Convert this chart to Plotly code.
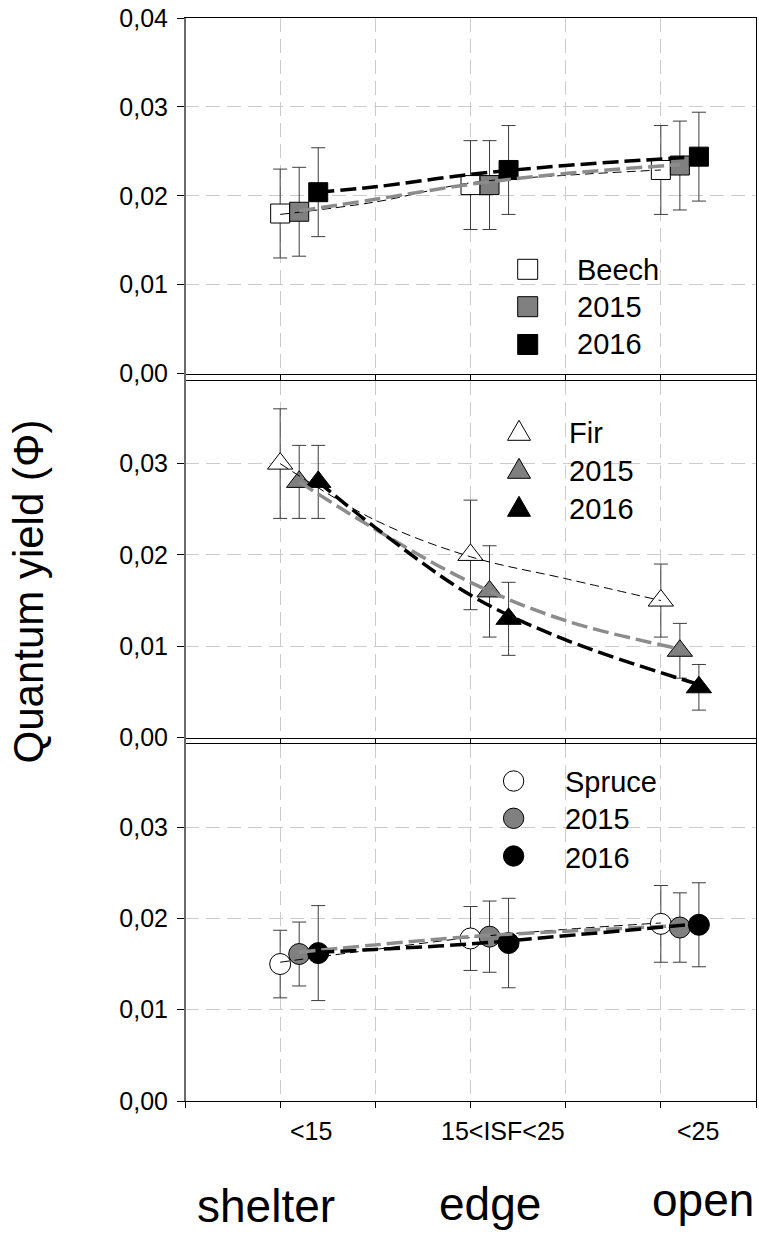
import plotly.graph_objects as go

FONT = "Liberation Sans, Arial, sans-serif"

# ---------------- data ----------------
sites = ["shelter", "edge", "open"]
isf_classes = ["<15", "15<ISF<25", "<25"]

beech_mean = [0.0180, 0.0212, 0.0229]
beech_err = [0.0050, 0.0050, 0.0050]
beech_2015 = [0.0182, 0.0212, 0.0234]
beech_2015_err = [0.0050, 0.0050, 0.0050]
beech_2016 = [0.0204, 0.0229, 0.0244]
beech_2016_err = [0.0050, 0.0050, 0.0050]

fir_mean = [0.0300, 0.0200, 0.0150]
fir_err = [0.0060, 0.0060, 0.0040]
fir_2015 = [0.0280, 0.0160, 0.0095]
fir_2015_err = [0.0040, 0.0050, 0.0030]
fir_2016 = [0.0280, 0.0130, 0.0055]
fir_2016_err = [0.0040, 0.0040, 0.0025]

spruce_mean = [0.0150, 0.0178, 0.0194]
spruce_err = [0.0037, 0.0035, 0.0042]
spruce_2015 = [0.0161, 0.0180, 0.0190]
spruce_2015_err = [0.0035, 0.0039, 0.0038]
spruce_2016 = [0.0162, 0.0173, 0.0193]
spruce_2016_err = [0.0052, 0.0049, 0.0046]

# fitted trend curves
fit_x_mean = [1.0, 2.0, 3.0, 4.0, 5.0]
fit_x_2015 = [1.2, 2.0, 3.0, 4.0, 5.2]
fit_x_2016 = [1.4, 2.0, 3.0, 4.0, 5.4]
beech_fit_mean = [0.0179, 0.0193, 0.02145, 0.0223, 0.0229]
beech_fit_2015 = [0.0183, 0.0196, 0.0213, 0.0225, 0.0235]
beech_fit_2016 = [0.0204, 0.0210, 0.0224, 0.0234, 0.0244]
fir_fit_mean = [0.0300, 0.0238, 0.0198, 0.0174, 0.0150]
fir_fit_2015 = [0.0280, 0.0228, 0.0170, 0.0128, 0.0097]
fir_fit_2016 = [0.0280, 0.0230, 0.0156, 0.0107, 0.0058]
spruce_fit_mean = [0.0152, 0.0166, 0.0179, 0.0188, 0.0195]
spruce_fit_2015 = [0.0163, 0.0171, 0.0180, 0.0186, 0.0192]
spruce_fit_2016 = [0.0163, 0.0166, 0.0172, 0.0181, 0.0194]

# ---------------- layout constants ----------------
W_FIG, H_FIG = 759, 1235
M_L, M_R, M_T, M_B = 185, 3, 18, 134
PW = W_FIG - M_L - M_R
PH = H_FIG - M_T - M_B
BOTTOM_PX = H_FIG - M_B

cat_x = [1, 3, 5]
dodge = [0.0, 0.2, 0.4]
fills = ["white", "#808080", "black"]
fit_colors = ["black", "#8c8c8c", "black"]
fit_widths = [1, 3.5, 3.5]
fit_dashes = ["9px,5px", "16px,6px", "16px,6px"]


def pxx(p):
    """page x pixel -> paper fraction"""
    return (p - M_L) / PW


def pxy(p):
    """page y pixel -> paper fraction"""
    return (BOTTOM_PX - p) / PH


panels = [
    dict(sym="square", size=19,
         means=[beech_mean, beech_2015, beech_2016],
         errs=[beech_err, beech_2015_err, beech_2016_err],
         fits=[beech_fit_mean, beech_fit_2015, beech_fit_2016],
         names=["Beech", "2015", "2016"],
         domain=[pxy(373.5), 1.0], rng=[0, 0.04]),
    dict(sym="triangle-up", size=22,
         means=[fir_mean, fir_2015, fir_2016],
         errs=[fir_err, fir_2015_err, fir_2016_err],
         fits=[fir_fit_mean, fir_fit_2015, fir_fit_2016],
         names=["Fir", "2015", "2016"],
         domain=[pxy(737.5), pxy(381)], rng=[0, 0.03905]),
    dict(sym="circle", size=21,
         means=[spruce_mean, spruce_2015, spruce_2016],
         errs=[spruce_err, spruce_2015_err, spruce_2016_err],
         fits=[spruce_fit_mean, spruce_fit_2015, spruce_fit_2016],
         names=["Spruce", "2015", "2016"],
         domain=[0.0, pxy(744)], rng=[0, 0.0391]),
]
fit_xs = [fit_x_mean, fit_x_2015, fit_x_2016]

fig = go.Figure()

for i, p in enumerate(panels):
    xa = "x" if i == 0 else f"x{i+1}"
    ya = "y" if i == 0 else f"y{i+1}"
    for s in range(3):
        fig.add_trace(go.Scatter(
            x=[c + dodge[s] for c in cat_x], y=p["means"][s],
            mode="markers", xaxis=xa, yaxis=ya, showlegend=False,
            name=p["names"][s],
            marker=dict(symbol=p["sym"], size=p["size"], color=fills[s],
                        line=dict(color="black", width=1)),
            error_y=dict(type="data", array=p["errs"][s], visible=True,
                         color="#3c3c3c", thickness=1, width=7),
        ))
    for s in range(3):
        fig.add_trace(go.Scatter(
            x=fit_xs[s], y=p["fits"][s], mode="lines",
            xaxis=xa, yaxis=ya, showlegend=False, hoverinfo="skip",
            line=dict(color=fit_colors[s], width=fit_widths[s],
                      dash=fit_dashes[s], shape="spline", smoothing=1),
        ))

grid = dict(showgrid=True, gridcolor="#cccccc", gridwidth=1, griddash="14px,7px")

layout = dict(
    width=W_FIG, height=H_FIG,
    margin=dict(l=M_L, r=M_R, t=M_T, b=M_B, autoexpand=False),
    paper_bgcolor="white", plot_bgcolor="white",
    separators=",.",
    font=dict(family=FONT, color="black", size=25),
    showlegend=False,
)

for i, p in enumerate(panels):
    xk = "xaxis" if i == 0 else f"xaxis{i+1}"
    yk = "yaxis" if i == 0 else f"yaxis{i+1}"
    ya = "y" if i == 0 else f"y{i+1}"
    xa = "x" if i == 0 else f"x{i+1}"
    layout[xk] = dict(
        domain=[0, 1], anchor=ya, range=[0, 6],
        tickvals=[0, 1, 2, 3, 4, 5, 6], showticklabels=False,
        ticks="outside", ticklen=6, tickcolor="black", tickwidth=1,
        showline=True, linecolor="black", linewidth=1, mirror=True,
        zeroline=False, automargin=False, **grid,
    )
    top = p["rng"][1]
    tv = [0, 0.01, 0.02, 0.03] + ([0.04] if top >= 0.04 else [])
    layout[yk] = dict(
        domain=p["domain"], anchor=xa, range=p["rng"],
        tickvals=tv, tickformat=".2f",
        ticks="outside", ticklen=7, tickcolor="black", tickwidth=1,
        ticklabelstandoff=4, ticklabeloverflow="allow",
        tickfont=dict(size=25, family=FONT, color="black"),
        showline=True, linecolor="black", linewidth=1, mirror=True,
        zeroline=False, automargin=False, **grid,
    )

fig.update_layout(**layout)

annotations = []
shapes = []

# continuous left spine through all panels
shapes.append(dict(type="line", xref="paper", yref="paper", x0=0, x1=0,
                   y0=0, y1=1, line=dict(color="#6a6a6a", width=2), layer="above"))

# in-panel legends (page pixel positions)
leg_text_x = [575, 567, 563]
leg_text_y = [[270, 306.7, 344.3], [432.8, 470.8, 509.0], [782.0, 819.5, 857.5]]
leg_sym_x = [527.7, 519.0, 513.6]
leg_sym_y = [[269.3, 306.7, 344.5], [433.6, 471.6, 509.6], [781.0, 818.3, 856.0]]
for i, p in enumerate(panels):
    for s in range(3):
        annotations.append(dict(
            text=p["names"][s], xref="paper", yref="paper",
            x=pxx(leg_text_x[i]), y=pxy(leg_text_y[i][s]),
            xanchor="left", yanchor="middle", showarrow=False,
            font=dict(size=29, family=FONT, color="black"),
        ))
        base = dict(xref="paper", yref="paper", xsizemode="pixel", ysizemode="pixel",
                    xanchor=pxx(leg_sym_x[i]), yanchor=pxy(leg_sym_y[i][s]),
                    fillcolor=fills[s], line=dict(color="black", width=1), layer="above")
        if i == 0:
            shapes.append(dict(type="rect", x0=-10, x1=10, y0=-10, y1=10, **base))
        elif i == 1:
            shapes.append(dict(type="path", path="M-11.5,-6.7 L11.5,-6.7 L0,13.3 Z", **base))
        else:
            shapes.append(dict(type="circle", x0=-10.2, x1=10.2, y0=-10.2, y1=10.2, **base))

# ISF class labels under the x axis
isf_x = [1.32, 3.34, 5.39]
for k in range(3):
    annotations.append(dict(
        text=isf_classes[k], xref="x3", yref="paper", x=isf_x[k], y=pxy(1131),
        xanchor="center", yanchor="middle", showarrow=False,
        font=dict(size=25, family=FONT, color="black"),
    ))

# site names
site_x = [0.85, 3.20, 5.44]
site_y = [1206, 1204, 1200]
for k in range(3):
    annotations.append(dict(
        text=sites[k], xref="x3", yref="paper", x=site_x[k], y=pxy(site_y[k]),
        xanchor="center", yanchor="middle", showarrow=False,
        font=dict(size=46, family=FONT, color="black"),
    ))

# y-axis title
annotations.append(dict(
    text="Quantum yield (\u03a6)", xref="paper", yref="paper",
    x=pxx(28), y=pxy(591.5), xanchor="center", yanchor="middle",
    textangle=-90, showarrow=False,
    font=dict(size=42, family=FONT, color="black"),
))

fig.update_layout(annotations=annotations, shapes=shapes)

# let the figure fill the window exactly (no default 8px body margin)
fig.write_html(
    "out.html",
    config={"displayModeBar": False},
    post_script="document.body.style.margin='0';document.body.style.overflow='hidden';",
)
